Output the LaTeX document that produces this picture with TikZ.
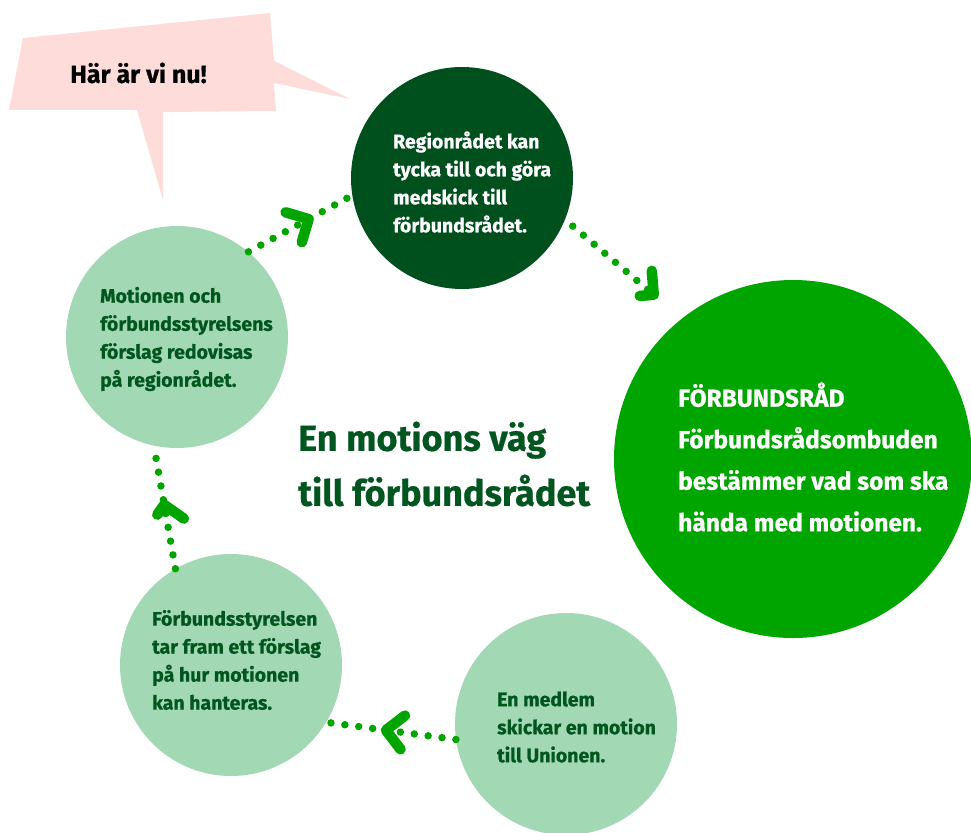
\documentclass[tikz,border=0pt]{standalone}
\usepackage{fontspec}
\setmainfont[BoldFeatures={FakeBold=0.6}]{Fira Sans}
\usetikzlibrary{decorations.markings}
\definecolor{pinkbub}{HTML}{FDDCDA}
\definecolor{darkg}{HTML}{00501E}
\definecolor{brightg}{HTML}{00A500}
\definecolor{lightg}{HTML}{A2D8B3}
\definecolor{textg}{HTML}{00561E}
\definecolor{dotg}{HTML}{00A500}
\begin{document}
\begin{tikzpicture}[x=1pt,y=-1pt,
  circ/.style={circle,inner sep=0pt,minimum size=#1},
  txt/.style={anchor=west,inner sep=0pt,align=left,font=\bfseries\fontsize{19.5}{28}\selectfont},
  chev/.style={draw=dotg,solid,line width=10.5pt,line cap=round,line join=round},
  dotline/.style={draw=dotg,line width=7.5pt,line cap=round,dash pattern=on 0pt off 14pt},
  conn/.style={dotline,postaction={decorate,decoration={markings,
      mark=at position #1 with {\draw[chev] (-17,17) -- (0,0) -- (-17,-17);}}}}
]
\useasboundingbox (0,0) rectangle (971,832);

% speech bubble
\fill[pinkbub] (23,38) -- (270,13) -- (274,61) -- (350,99) -- (274,83) -- (276,111)
  -- (163,112) -- (163,200) -- (137,110) -- (9,110) -- cycle;
\node[anchor=west,inner sep=0pt,font=\bfseries\fontsize{25}{28}\selectfont,text=black] (bub) at (70,73) {Här är vi nu!};

% circles
\node[circ=222pt,fill=darkg] (dk) at (462,178) {};
\node[circ=358pt,fill=brightg] (br) at (793,459) {};
\node[circ=222pt,fill=lightg] (tl) at (177,337) {};
\node[circ=222pt,fill=lightg] (bl) at (231,665) {};
\node[circ=222pt,fill=lightg] (bra) at (566,724) {};

% texts
\node[txt,text=white] (dkt) at (393,182) {Regionrådet kan\\tycka till och göra\\medskick till\\förbundsrådet.};
\node[txt,text=textg] (tlt) at (100,339) {Motionen och\\förbundsstyrelsens\\förslag redovisas\\på regionrådet.};
\node[txt,text=textg] (blt) at (152,660) {Förbundsstyrelsen\\tar fram ett förslag\\på hur motionen\\kan hanteras.};
\node[txt,text=textg] (brat) at (497,727) {En medlem\\skickar en motion\\till Unionen.};
\node[txt,text=white,font=\bfseries\fontsize{24.5}{41.5}\selectfont] (brt) at (678,457) {FÖRBUNDSRÅD\\Förbundsrådsombuden\\bestämmer vad som ska\\hända med motionen.};
\node[txt,text=textg,font=\bfseries\fontsize{36}{55}\selectfont] (title) at (298,464) {En motions väg\\till förbundsrådet};

% connectors
\coordinate (c2) at (654,295);
\draw[conn=0.58] (tl.50) -- (dk.189);
\draw[conn=0.999,shorten <=10pt] (dk.-22) -- (c2);
\draw[conn=0.54] (bra.188) -- (bl.-31);
\draw[conn=0.52,shorten >=12pt] (bl.120) -- (tl.258);
\end{tikzpicture}
\end{document}
